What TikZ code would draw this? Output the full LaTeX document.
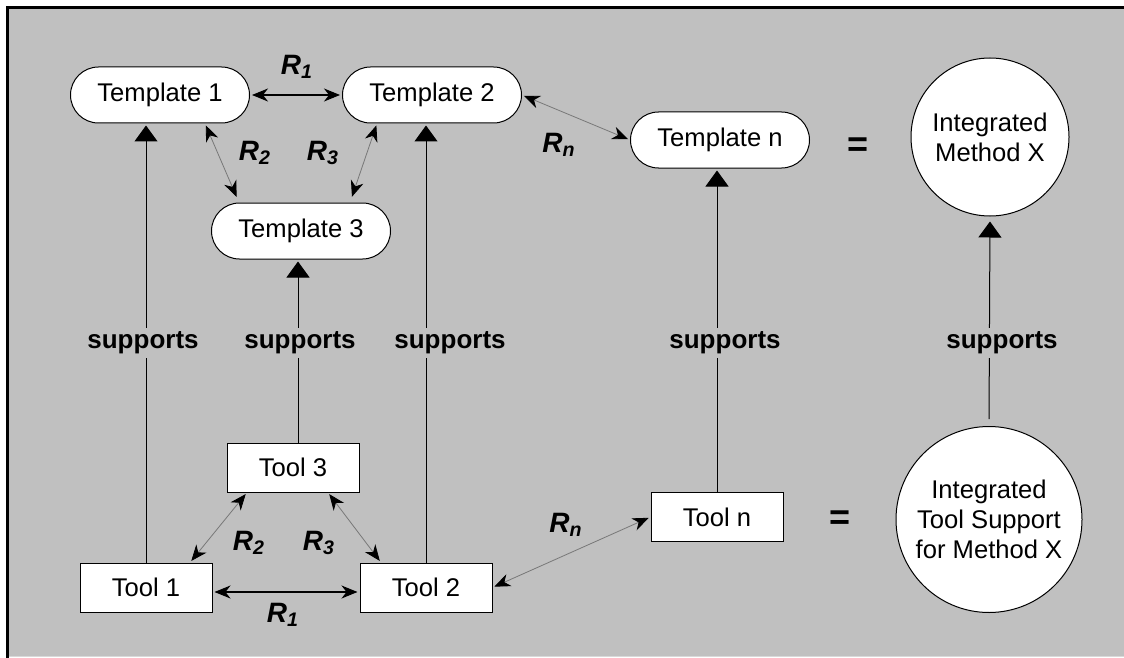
\documentclass[tikz,border=0pt]{standalone}
\usepackage{fontspec}
\setmainfont{Liberation Sans}
\usetikzlibrary{arrows.meta}
\usetikzlibrary{positioning}
\usetikzlibrary{calc}
\definecolor{panelgray}{HTML}{C0C0C0}
\definecolor{relgray}{HTML}{787878}
\tikzstyle{template}=[rectangle,rounded corners=14pt,fill=white,draw=black,line width=0.5pt,minimum width=89.5pt,minimum height=28pt,inner sep=0pt]
\tikzstyle{tool}=[rectangle,fill=white,draw=black,line width=0.5pt,minimum width=66pt,minimum height=24.5pt,inner sep=0pt]
\tikzstyle{method}=[circle,fill=white,draw=black,line width=0.5pt,inner sep=0pt,align=center]
\tikzstyle{supportedge}=[draw,line width=0.5pt,shorten >=1pt,-{Triangle[length=8pt,width=11.5pt]}]
\tikzstyle{relation}=[draw,relgray,line width=0.4pt,shorten >=1pt,shorten <=1pt,{Stealth[length=8pt,width=6.5pt,inset=2.5pt,color=black]}-{Stealth[length=8pt,width=6.5pt,inset=2.5pt,color=black]}]
\tikzstyle{strongrelation}=[relation,draw=black,line width=0.55pt]
\tikzstyle{weight}=[font=\fontsize{14pt}{16pt}\selectfont\bfseries\itshape,inner sep=0pt]
\tikzstyle{supportlabel}=[font=\fontsize{13pt}{15pt}\selectfont\bfseries,fill=panelgray,inner xsep=2pt,inner ysep=2pt]
\tikzstyle{equals}=[font=\fontsize{18pt}{20pt}\selectfont\bfseries]
\newcommand{\relname}[1]{R\textsubscript{#1}}

\begin{document}
\begin{tikzpicture}[x=0.5pt,y=-0.5pt,font=\fontsize{12.8pt}{15pt}\selectfont]
    \useasboundingbox (0,0) rectangle (1124,658);
    % The grey panel with its dark edge
    \fill[panelgray] (9,9) rectangle (1124,656);
    \draw[white!85!black,line width=0.5pt] (9,656.5) -- (1124,656.5);
    \draw[line width=1.5pt] (7.5,658) -- (7.5,7.5) -- (1124,7.5);

    % First we draw the templates and the tools
    \foreach \pos/\name/\label in {{(160,95)/T1/Template 1}, {(432,95)/T2/Template 2}, {(301,231)/T3/Template 3}, {(720,140)/Tn/Template n}}
        \node[template] (\name) at \pos {\label};
    \foreach \pos/\name/\label in {{(146,587.5)/Tool1/Tool 1}, {(426,587.5)/Tool2/Tool 2}, {(293,467.5)/Tool3/Tool 3}, {(717,517)/Tooln/Tool n}}
        \node[tool] (\name) at \pos {\label};

    % The integrated method and its tool support
    \node[method,minimum size=79pt] (MethodX) at (990,137) {Integrated\\Method X};
    \node[method,minimum size=93pt] (ToolX) at (989,519.5) {Integrated\\Tool Support\\for Method X};
    \node[equals] (eqtop) at (858,147) {=};
    \node[equals] (eqbot) at (840,520) {=};

    % Each tool supports its template
    \foreach \source/\dest in {Tool1/T1, Tool2/T2, Tooln/Tn}
        \path[supportedge] (\source.north) -- (\source.north |- \dest.south);
    \path[supportedge] ([xshift=2.5pt]Tool3.north) -- ([xshift=2.5pt]Tool3.north |- T3.south);
    \path[supportedge,shorten <=3.5pt,shorten >=2.5pt] (ToolX.north) -- (MethodX.south);
    \foreach \pos/\name in {{(143,343)/sup1}, {(300,343)/sup3}, {(450,343)/sup2}, {(725,343)/supn}, {(1002,343)/supx}}
        \node[supportlabel] (\name) at \pos {supports};

    % Relations between templates and between tools
    \path[strongrelation] (T1.east) -- (T2.west);
    \path[relation,shorten >=3pt] ([xshift=22.5pt]T1.south) -- ([xshift=-31pt]T3.north);
    \path[relation,shorten >=3pt] ([xshift=-27.5pt]T2.south) -- ([xshift=24.5pt]T3.north);
    \path[relation] (T2.east) -- (Tn.west);
    \path[strongrelation] ([yshift=-2.25pt]Tool1.east) -- ([yshift=-2.25pt]Tool2.west);
    \path[relation] ([xshift=22pt]Tool1.north) -- ([xshift=-23pt]Tool3.south);
    \path[relation] ([xshift=17.5pt]Tool3.south) -- ([xshift=-22.5pt]Tool2.north);
    \path[relation] (Tooln.west) -- (Tool2.east);
    \foreach \pos/\name/\label in {{(297,67)/rtop1/1}, {(255,153)/rtop2/2}, {(323,153)/rtop3/3}, {(559,145)/rtopn/n}, {(283,615)/rbot1/1}, {(249,543)/rbot2/2}, {(319,543)/rbot3/3}, {(566,525)/rbotn/n}}
        \node[weight] (\name) at \pos {\relname{\label}};
\end{tikzpicture}
\end{document}
